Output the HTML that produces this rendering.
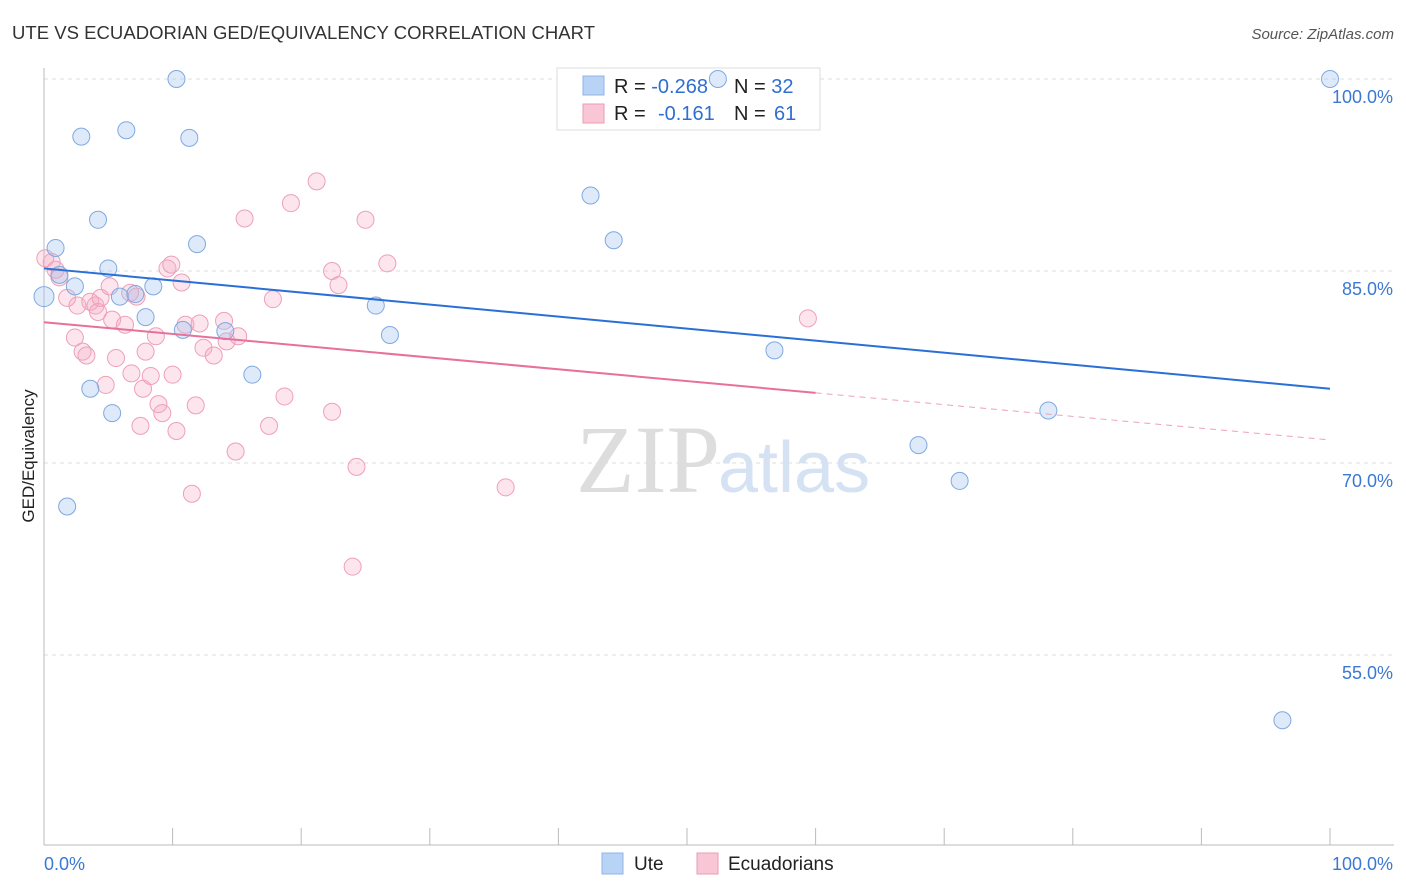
<!DOCTYPE html>
<html><head><meta charset="utf-8"><style>
body{margin:0;background:#fff;font-family:"Liberation Sans",sans-serif;}
svg{display:block}
</style></head><body>
<svg id="c" width="1406" height="892" xmlns="http://www.w3.org/2000/svg">
<text x="12" y="39" font-size="18.5" fill="#333" textLength="583">UTE VS ECUADORIAN GED/EQUIVALENCY CORRELATION CHART</text>
<text x="1394" y="39" font-size="15" fill="#555" font-style="italic" text-anchor="end">Source: ZipAtlas.com</text>
<text x="720" y="492" font-size="96" fill="#ddd" text-anchor="end" font-family="Liberation Serif">ZIP</text>
<text x="718" y="492" font-size="72" fill="#d4e2f4">atlas</text>
<g id="grid"></g>
<g id="axes"></g>
<g>
<rect x="557" y="68" width="263" height="62" fill="#fff" stroke="#ddd"/>
<rect x="583" y="76" width="21" height="19" fill="#b8d3f5" stroke="#8fb4e8"/>
<rect x="583" y="104" width="21" height="19" fill="#f9c6d6" stroke="#ee9ab5"/>
<text x="614" y="93" font-size="20" fill="#222">R = <tspan fill="#2f6fd0">-0.268</tspan></text>
<text x="734" y="93" font-size="20" fill="#222">N = <tspan fill="#2f6fd0">32</tspan></text>
<text x="614" y="120" font-size="20" fill="#222">R = <tspan fill="#2f6fd0" x="658">-0.161</tspan></text>
<text x="734" y="120" font-size="20" fill="#222">N = <tspan fill="#2f6fd0" x="774">61</tspan></text>
</g>
<g id="pts"></g>
<g id="lines"></g>
<text transform="translate(34,456) rotate(-90)" font-size="17" fill="#222" text-anchor="middle">GED/Equivalency</text>
<g>
<rect x="602" y="853" width="21" height="21" fill="#b8d3f5" stroke="#8fb4e8"/>
<text x="634" y="870" font-size="19" fill="#222">Ute</text>
<rect x="697" y="853" width="21" height="21" fill="#f9c6d6" stroke="#ee9ab5"/>
<text x="728" y="870" font-size="19" fill="#222">Ecuadorians</text>
</g>
</svg>
<script>
const yTicks=[100,85,70,55];
const xTickLabels=["0.0%","100.0%"];
const uteX=[10.3,52.4,100,2.9,6.4,11.3,4.2,42.5,44.3,0.9,11.9,5.0,2.4,8.5,5.9,7.1,7.9,10.8,14.1,25.8,26.9,0,3.6,5.3,16.2,56.8,78.1,68.0,71.2,1.8,96.3,1.2];
const uteY=[100,100,100,95.5,96.0,95.4,89.0,90.9,87.4,86.8,87.1,85.2,83.8,83.8,83.0,83.2,81.4,80.4,80.3,82.3,80.0,83.0,75.8,73.9,76.9,78.8,74.1,71.4,68.6,66.6,49.9,84.7];
const ecuX=[0.6,0.9,1.2,1.8,2.6,3.6,4.0,4.2,4.4,5.1,5.3,6.3,6.7,7.2,2.4,3.0,3.3,5.6,4.8,6.8,7.7,7.9,8.3,8.7,8.9,9.2,7.5,10.0,10.3,9.6,9.9,10.7,11.0,12.1,11.8,11.5,12.4,13.2,14.0,14.2,15.1,14.9,15.6,17.5,17.8,18.7,19.2,21.2,22.4,22.9,22.4,25.0,26.7,24.3,24.0,35.9,59.4,0.1];
const ecuY=[85.7,85.1,84.5,82.9,82.3,82.6,82.3,81.8,82.9,83.8,81.2,80.8,83.3,83.0,79.8,78.7,78.4,78.2,76.1,77.0,75.8,78.7,76.8,79.9,74.6,73.9,72.9,76.9,72.5,85.2,85.5,84.1,80.8,80.9,74.5,67.6,79.0,78.4,81.1,79.5,79.9,70.9,89.1,72.9,82.8,75.2,90.3,92.0,85.0,83.9,74.0,89.0,85.6,69.7,61.9,68.1,81.3,86.0];
const uteTrend=[85.2,75.8];
const ecuTrend=[81.0,71.8];
const ecuSolidEnd=60;
const NS="http://www.w3.org/2000/svg";
const sx=v=>44+v*12.86, sy=v=>79+(100-v)*12.8;
function mk(t,a,p){const e=document.createElementNS(NS,t);for(const k in a)e.setAttribute(k,a[k]);p.appendChild(e);return e;}
const grid=document.getElementById('grid'),axes=document.getElementById('axes'),pts=document.getElementById('pts'),lines=document.getElementById('lines');
yTicks.forEach(v=>{
 const l=mk('line',{x1:44,x2:1394,y1:sy(v),y2:sy(v),stroke:'#ddd','stroke-dasharray':'4,4'},grid);
 
 
 const t=mk('text',{x:1393,y:sy(v)+24,'font-size':18,fill:'#3a78d4','text-anchor':'end'},grid);
 t.textContent=v.toFixed(1)+'%';
 
 
});
mk('line',{x1:44,x2:44,y1:68,y2:845,stroke:'#bbb'},axes);
mk('line',{x1:44,x2:1394,y1:845,y2:845,stroke:'#bbb'},axes);
for(let i=0;i<=10;i++){mk('line',{x1:sx(i*10),x2:sx(i*10),y1:828,y2:845,stroke:'#bbb'},axes);}
const xl0=mk('text',{x:44,y:870,'font-size':18,fill:'#3a78d4'},axes);xl0.textContent=xTickLabels[0];


const xl1=mk('text',{x:1393,y:870,'font-size':18,fill:'#3a78d4','text-anchor':'end'},axes);xl1.textContent=xTickLabels[1];


ecuX.forEach((x,i)=>{const c=mk('circle',{cx:sx(x),cy:sy(ecuY[i]),r:8.5,fill:'rgba(246,170,195,0.3)',stroke:'#eea0b8','stroke-width':1},pts);
 
 });
uteX.forEach((x,i)=>{const c=mk('circle',{cx:sx(x),cy:sy(uteY[i]),r:(x===0?10:8.5),fill:'rgba(160,195,240,0.35)',stroke:'#7fa9e0','stroke-width':1},pts);
 
 });
const ub=mk('line',{x1:sx(0),y1:sy(uteTrend[0]),x2:sx(100),y2:sy(uteTrend[1]),stroke:'#2a6fd6','stroke-width':2},lines);


const ey=x=>ecuTrend[0]+(ecuTrend[1]-ecuTrend[0])*x/100;
const ep=mk('line',{x1:sx(0),y1:sy(ey(0)),x2:sx(ecuSolidEnd),y2:sy(ey(ecuSolidEnd)),stroke:'#e8709a','stroke-width':2},lines);


const ed=mk('line',{x1:sx(ecuSolidEnd),y1:sy(ey(ecuSolidEnd)),x2:sx(100),y2:sy(ey(100)),stroke:'#eea0b8','stroke-width':1,'stroke-dasharray':'6,5'},lines);


</script>
</body></html>
